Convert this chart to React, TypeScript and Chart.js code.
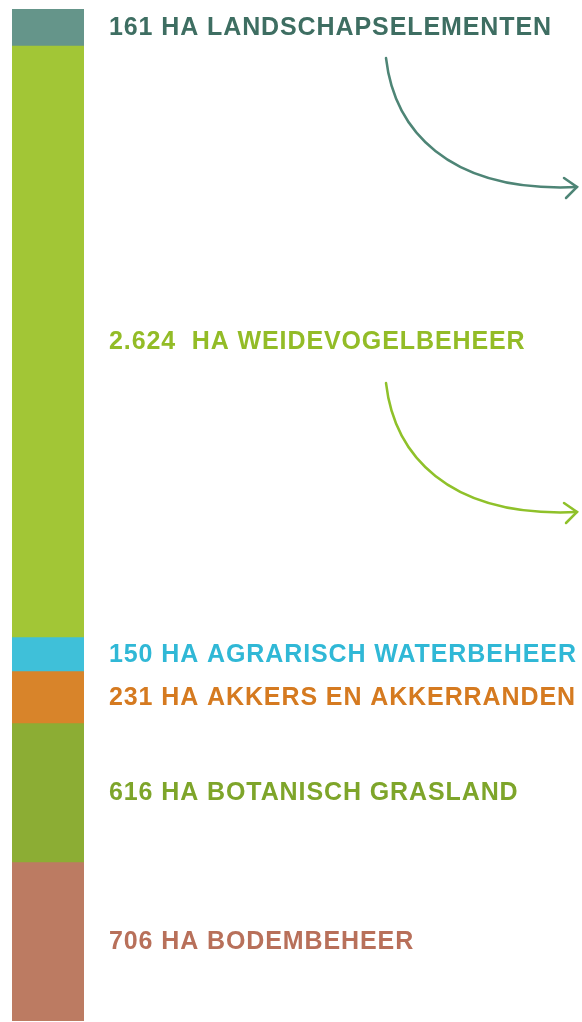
import React, { useEffect, useRef } from "react";
import { Chart, registerables } from "chart.js";

Chart.register(...registerables);

const categories = ["Beheer"];
const segmentLabels = [
  "161 HA LANDSCHAPSELEMENTEN",
  "2.624  HA WEIDEVOGELBEHEER",
  "150 HA AGRARISCH WATERBEHEER",
  "231 HA AKKERS EN AKKERRANDEN",
  "616 HA BOTANISCH GRASLAND",
  "706 HA BODEMBEHEER",
];
const segmentValues = [161, 2624, 150, 231, 616, 706];
const barColors = ["#65958a", "#a2c636", "#3fc0d9", "#d8842a", "#8cad34", "#bc7b62"];
const textColors = ["#3e6e62", "#93bc27", "#30b8d6", "#d57a20", "#7ea52a", "#b8705a"];
const arrowStartsY = [58, 383];
const arrowColors = ["#4e8576", "#8fc12a"];

const total = segmentValues.reduce((a, b) => a + b, 0);

const labelPlugin = {
  id: "segLabels",
  afterDatasetsDraw(chart: any) {
    const ctx = chart.ctx;
    const y = chart.scales.y;
    let cum = 0;
    ctx.save();
    ctx.font = "bold 25px 'Liberation Sans', Arial, sans-serif";
    (ctx as any).letterSpacing = "0.9px";
    ctx.textBaseline = "middle";
    segmentValues.forEach((v, i) => {
      const cy = (y.getPixelForValue(cum) + y.getPixelForValue(cum + v)) / 2;
      cum += v;
      ctx.fillStyle = textColors[i];
      ctx.fillText(segmentLabels[i], 109, cy + 1);
    });
    arrowStartsY.forEach((sy, k) => {
      const ey = sy + 129;
      const sx = 386;
      const ex = 577;
      ctx.strokeStyle = arrowColors[k];
      ctx.lineWidth = 2.5;
      ctx.lineCap = "round";
      ctx.beginPath();
      ctx.moveTo(sx, sy);
      ctx.bezierCurveTo(sx + 8, sy + 70, sx + 60, ey + 6, ex, ey);
      ctx.stroke();
      ctx.beginPath();
      ctx.moveTo(ex - 13, ey - 9);
      ctx.lineTo(ex, ey);
      ctx.lineTo(ex - 11, ey + 11);
      ctx.stroke();
    });
    ctx.restore();
  },
};

export default function App() {
  const ref = useRef<HTMLCanvasElement>(null);
  useEffect(() => {
    const chart = new Chart(ref.current!, {
      type: "bar",
      data: {
        labels: categories,
        datasets: segmentValues.map((v, i) => ({
          label: segmentLabels[i],
          data: [v],
          backgroundColor: barColors[i],
          borderWidth: 0,
          barPercentage: 1,
          categoryPercentage: 1,
        })),
      },
      options: {
        animation: false,
        responsive: false,
        maintainAspectRatio: false,
        layout: { padding: { left: 12, right: 498, top: 9, bottom: 1 } },
        plugins: { legend: { display: false }, tooltip: { enabled: false } },
        scales: {
          x: { stacked: true, display: false },
          y: { stacked: true, display: false, reverse: true, min: 0, max: total },
        },
      },
      plugins: [labelPlugin],
    });
    return () => chart.destroy();
  }, []);
  return (
    <div style={{ position: "absolute", left: 0, top: 0, width: 582, height: 1022, background: "#fff" }}>
      <canvas ref={ref} width={582} height={1022} style={{ width: 582, height: 1022 }} />
    </div>
  );
}
